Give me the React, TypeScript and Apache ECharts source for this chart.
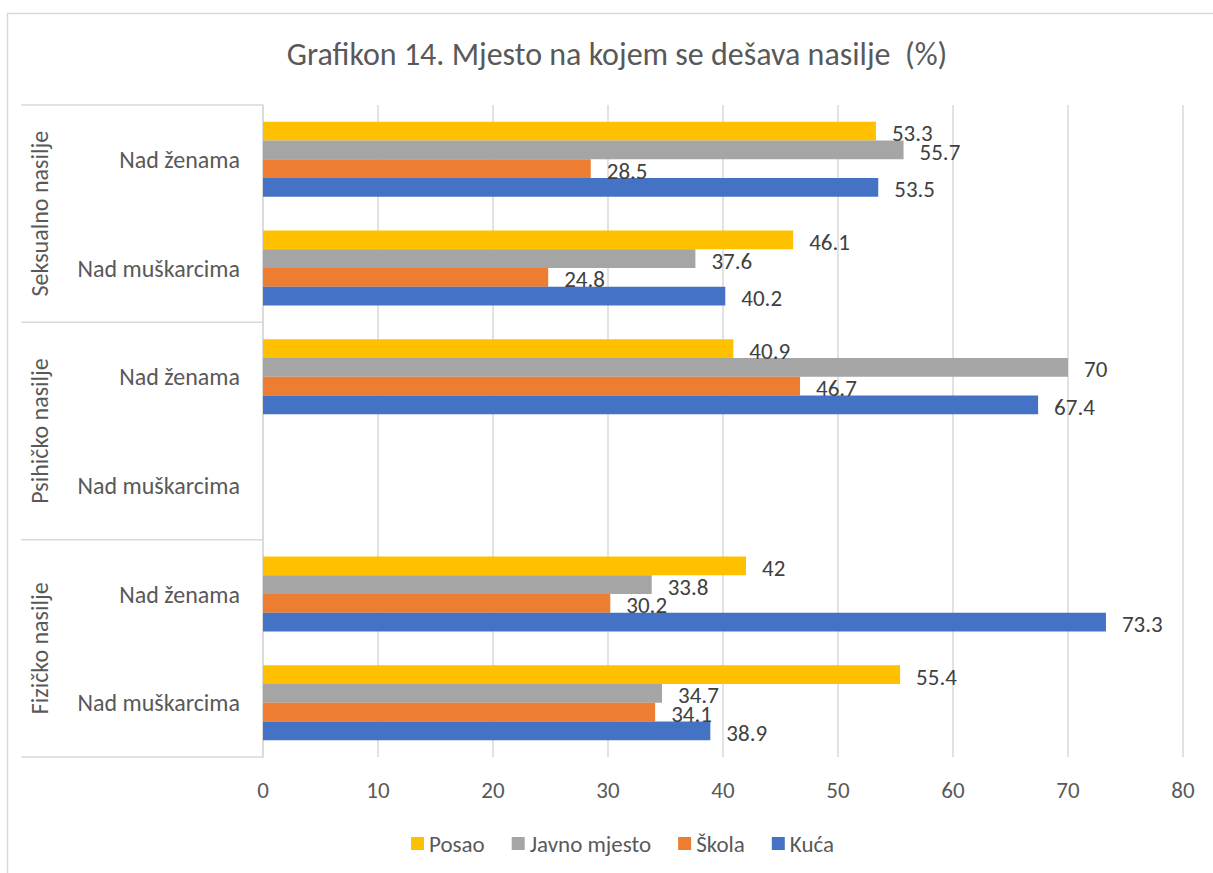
import React, { useEffect, useRef } from 'react';
import * as echarts from 'echarts';

const TITLE = 'Grafikon 14. Mjesto na kojem se dešava nasilje  (%)';
const groups = ['Seksualno nasilje', 'Psihičko nasilje', 'Fizičko nasilje'];
const subLabels = ['Nad ženama', 'Nad muškarcima'];
// top to bottom
const categories = [
  'Seksualno|Nad ženama',
  'Seksualno|Nad muškarcima',
  'Psihičko|Nad ženama',
  'Psihičko|Nad muškarcima',
  'Fizičko|Nad ženama',
  'Fizičko|Nad muškarcima',
];
const seriesNames = ['Posao', 'Javno mjesto', 'Škola', 'Kuća'];
const posao = [53.3, 46.1, 40.9, null, 42, 55.4];
const javnoMjesto = [55.7, 37.6, 70, null, 33.8, 34.7];
const skola = [28.5, 24.8, 46.7, null, 30.2, 34.1];
const kuca = [53.5, 40.2, 67.4, null, 73.3, 38.9];
const xTicks = [0, 10, 20, 30, 40, 50, 60, 70, 80];

const colors = ['#FFC000', '#A5A5A5', '#ED7D31', '#4472C4'];
const FONT = 'Carlito, Calibri, Lato, sans-serif';

const W = 1213;
const H = 873;
const GRID = { left: 263, right: 30, top: 105, bottom: 116 };

export default function App() {
  const ref = useRef<HTMLDivElement>(null);
  useEffect(() => {
    if (!ref.current) return;
    const chart = echarts.init(ref.current, undefined, { renderer: 'svg' });
    const values = [posao, javnoMjesto, skola, kuca];
    const plotH = H - GRID.top - GRID.bottom;
    const groupH = plotH / groups.length;
    const sepColor = '#D9D9D9';
    const graphics: any[] = [
      {
        type: 'rect',
        shape: { x: 7.5, y: 13.5, width: W + 20, height: H + 20 },
        style: { fill: 'none', stroke: sepColor, lineWidth: 1.5 },
        silent: true,
      },
      {
        type: 'text',
        x: 617,
        y: 54,
        style: {
          text: TITLE,
          fill: '#595959',
          fontSize: 32,
          fontFamily: FONT,
          align: 'center',
          verticalAlign: 'middle',
        },
      },
    ];
    for (let i = 0; i <= groups.length; i++) {
      const y = GRID.top + groupH * i;
      graphics.push({
        type: 'line',
        shape: { x1: 21, y1: y, x2: GRID.left, y2: y },
        style: { stroke: sepColor, lineWidth: 1.5 },
        silent: true,
      });
    }
    groups.forEach((g, i) => {
      graphics.push({
        type: 'text',
        x: 39,
        y: GRID.top + groupH * (i + 0.5),
        rotation: Math.PI / 2,
        style: {
          text: g,
          fill: '#595959',
          fontSize: 24,
          fontFamily: FONT,
          align: 'center',
          verticalAlign: 'middle',
        },
      });
    });

    chart.setOption({
      animation: false,
      color: colors,
      textStyle: { fontFamily: FONT },
      grid: { ...GRID, containLabel: false },
      legend: {
        left: 406,
        top: 827,
        itemWidth: 13,
        itemHeight: 13,
        itemGap: 27,
        icon: 'rect',
        data: seriesNames,
        textStyle: { fontSize: 23, color: '#595959', fontFamily: FONT },
      },
      xAxis: {
        type: 'value',
        min: 0,
        max: 80,
        interval: 10,
        axisLine: { show: false },
        axisTick: { show: false },
        splitLine: { lineStyle: { color: sepColor, width: 1.5 } },
        axisLabel: {
          color: '#595959',
          fontSize: 23,
          margin: 21,
          formatter: (v: number) => (xTicks.includes(v) ? String(v) : ''),
        },
      },
      yAxis: {
        type: 'category',
        inverse: true,
        data: categories,
        axisLine: { show: true, lineStyle: { color: sepColor, width: 1.5 } },
        axisTick: { show: false },
        splitLine: { show: false },
        axisLabel: {
          color: '#595959',
          fontSize: 24,
          margin: 23,
          formatter: (v: string) => {
            const s = v.split('|')[1];
            return subLabels.includes(s) ? s : s;
          },
        },
      },
      graphic: graphics,
      series: seriesNames.map((name, i) => ({
        name,
        type: 'bar',
        data: values[i],
        barGap: '0%',
        barCategoryGap: '31%',
        itemStyle: { color: colors[i] },
        label: {
          show: true,
          position: 'right',
          distance: 16,
          offset: [0, 2],
          color: '#404040',
          fontSize: 23,
          fontFamily: FONT,
        },
      })),
    });
    return () => chart.dispose();
  }, []);
  return (
    <div
      ref={ref}
      style={{ position: 'fixed', left: 0, top: 0, width: W, height: H, background: '#fff' }}
    />
  );
}
